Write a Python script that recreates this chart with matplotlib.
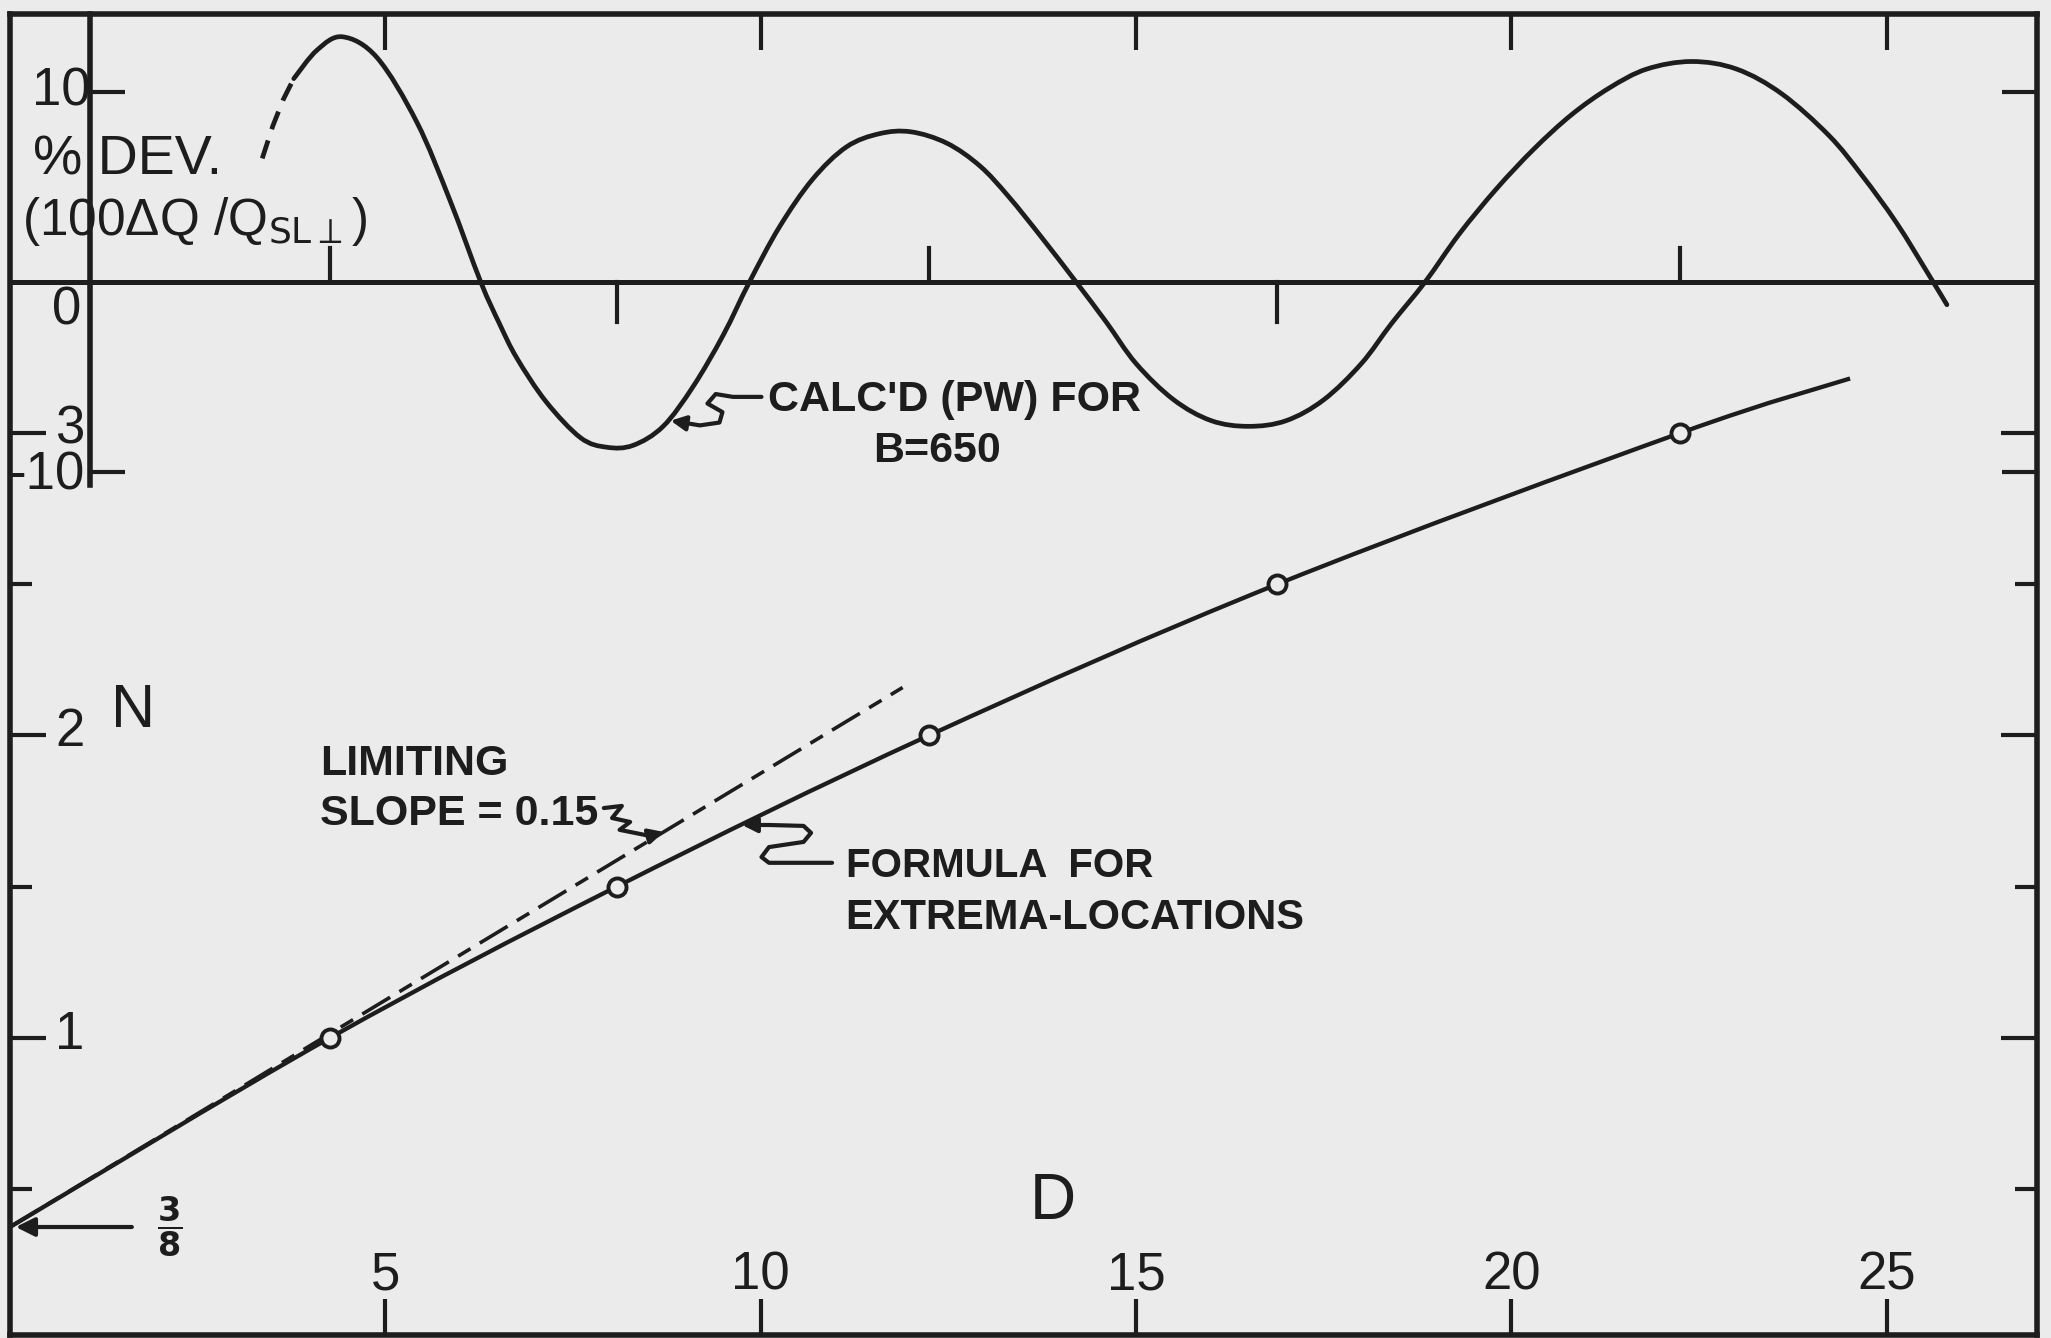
import matplotlib.pyplot as plt
from matplotlib.patches import FancyArrowPatch, PathPatch
from matplotlib.path import Path

INK = '#1d1d1d'
PAPER = '#ebebeb'
plt.rcParams['font.family'] = ['Liberation Sans', 'DejaVu Sans']

# % deviation 100*dQ/Q_SL, calculated (PW) for B = 650
dev_dash_d = [3.36, 3.50, 3.64, 3.78]
dev_dash_p = [6.5, 8.2, 9.6, 10.7]
dev_d = [3.78, 4.09, 4.43, 4.89, 5.42, 5.86, 6.27, 6.52, 6.75, 7.14,
         7.60, 7.95, 8.30, 8.70, 9.10, 9.50, 9.85, 10.25, 10.69, 11.14,
         11.58, 12.00, 12.48, 12.92, 13.30, 13.75, 14.20, 14.60, 15.00, 15.50,
         16.00, 16.50, 17.00, 17.50, 18.00, 18.40, 18.85, 19.30, 19.80, 20.30,
         20.80, 21.30, 21.80, 22.40, 23.00, 23.60, 24.23, 24.67, 25.13, 25.57,
         25.80]
dev_p = [10.7, 12.2, 12.9, 11.8, 8.4, 4.3, 0.0, -2.2, -4.0, -6.3,
         -8.2, -8.7, -8.6, -7.6, -5.5, -2.8, 0.0, 2.9, 5.4, 7.1,
         7.8, 7.9, 7.3, 6.1, 4.5, 2.3, 0.0, -2.1, -4.3, -6.2,
         -7.3, -7.6, -7.3, -6.2, -4.3, -2.2, 0.0, 2.5, 4.9, 7.0,
         8.8, 10.2, 11.2, 11.6, 11.2, 9.9, 7.7, 5.6, 3.1, 0.3,
         -1.2]

# extrema locations from the formula
ext_d = [4.26, 8.08, 12.24, 16.88, 22.25]
ext_n = [1.0, 1.5, 2.0, 2.5, 3.0]
form_d = [0.0] + ext_d + [24.51]
form_n = [0.375] + ext_n + [3.18]

N0 = 3 / 8
LIM_SLOPE = 0.15
lim_d_end = 11.89

d_ticks = [5, 10, 15, 20, 25]
n_major = [1, 2, 3]
n_minor = [0.5, 1.5, 2.5]
dev_ticks = [10, -10]


def smooth_path(xs, ys):
    # Catmull-Rom through every point, written as cubic Bezier segments
    pts = list(zip(xs, ys))
    verts = [pts[0]]
    codes = [Path.MOVETO]
    for i in range(len(pts) - 1):
        p0 = pts[max(i - 1, 0)]
        p1 = pts[i]
        p2 = pts[i + 1]
        p3 = pts[min(i + 2, len(pts) - 1)]
        c1 = (p1[0] + (p2[0] - p0[0]) / 6, p1[1] + (p2[1] - p0[1]) / 6)
        c2 = (p2[0] - (p3[0] - p1[0]) / 6, p2[1] - (p3[1] - p1[1]) / 6)
        verts += [c1, c2, p2]
        codes += [Path.CURVE4] * 3
    return Path(verts, codes)


fig = plt.figure(figsize=(20.51, 13.38), dpi=100)
fig.patch.set_facecolor(PAPER)
ax = fig.add_axes([10 / 2051, 3 / 1338, 2027 / 2051, 1321 / 1338])
ax.set_facecolor(PAPER)
ax.set_xlim(0, 27)
ax.set_ylim(0.018, 4.385)

ax2 = ax.twinx()
ax2.set_ylim(-55.42, 14.1)

for s in ax.spines.values():
    s.set_linewidth(4)
    s.set_color(INK)
for name, s in ax2.spines.items():
    s.set_visible(name == 'left')
ax2.spines['left'].set_position(('data', 1.065))
ax2.spines['left'].set_bounds(-10.7, 14.1)
ax2.spines['left'].set_linewidth(4)
ax2.spines['left'].set_color(INK)

# ticks
ax.set_xticks(d_ticks)
ax.tick_params(axis='x', direction='in', length=26, width=3, color=INK,
               top=True, bottom=True, labelbottom=False, labeltop=False)
ax.set_yticks(n_major)
ax.set_yticks(n_minor, minor=True)
ax.tick_params(axis='y', which='major', direction='in', length=26, width=3,
               color=INK, left=True, right=True, labelleft=False, labelright=False)
ax.tick_params(axis='y', which='minor', direction='in', length=16, width=3,
               color=INK, left=True, right=True, labelleft=False, labelright=False)
ax2.set_yticks(dev_ticks)
ax2.tick_params(axis='y', direction='in', length=25, width=3, color=INK,
                left=True, right=True, labelleft=False, labelright=False)

# upper curve: % deviation
ax2.axhline(0, color=INK, lw=3.6, zorder=2)
ax2.plot(dev_dash_d, dev_dash_p, color=INK, lw=3.4, ls=(0, (4, 2.5)))
ax2.add_patch(PathPatch(smooth_path(dev_d, dev_p), fill=False, ec=INK, lw=3.4,
                        capstyle='round', transform=ax2.transData))
for i, d in enumerate(ext_d):
    top = 1.8 if i % 2 == 0 else -2.1
    ax2.plot([d, d], [0, top], color=INK, lw=3)

# lower curves: N vs D
ax.plot([0, lim_d_end], [N0, N0 + LIM_SLOPE * lim_d_end], color=INK, lw=2.6,
        ls=(0, (9, 3, 4, 3)))
ax.add_patch(PathPatch(smooth_path(form_d, form_n), fill=False, ec=INK, lw=3.1,
                       transform=ax.transData))
ax.plot(ext_d, ext_n, 'o', ms=13, mfc=PAPER, mec=INK, mew=2.8, zorder=4)

# axis labels and tick numbers
num = dict(color=INK, fontsize=38, ha='center', va='center')
for d in d_ticks:
    ax.text(d, 0.215, str(d), **num)
ax.text(13.89, 0.458, 'D', color=INK, fontsize=46, ha='center', va='center')
for n in n_major:
    ax.text(0.8, n + 0.01, str(n), **num)
ax.text(1.64, 2.08, 'N', color=INK, fontsize=44, ha='center', va='center')
ax2.text(0.69, 10.0, '10', **num)
ax2.text(0.76, -1.5, '0', **num)
ax2.text(1.0, -10.2, '-10', color=INK, fontsize=38, ha='right', va='center')
ax2.text(0.31, 6.4, '% DEV.', color=INK, fontsize=40, ha='left', va='center')
ax2.text(0.16, 3.2, r'(100ΔQ /Q$_{\mathrm{SL}\perp}$)', color=INK,
         fontsize=37, ha='left', va='center')

# 3/8 intercept
ax.annotate('', xy=(0.04, N0), xytext=(1.66, N0),
            arrowprops=dict(arrowstyle='-|>', lw=3, color=INK, mutation_scale=28))
ax.text(2.12, N0, r'$\mathbf{\dfrac{3}{8}}$', color=INK, fontsize=24,
        ha='center', va='center')

# annotations
bold = dict(color=INK, fontweight='bold', va='center')
ax2.text(12.58, -6.2, "CALC'D (PW) FOR", fontsize=31, ha='center', **bold)
ax2.text(12.35, -8.9, 'B=650', fontsize=31, ha='center', **bold)
ax.text(4.13, 1.905, 'LIMITING', fontsize=31, ha='left', **bold)
ax.text(4.13, 1.74, 'SLOPE = 0.15', fontsize=31, ha='left', **bold)
ax.text(11.13, 1.568, 'FORMULA  FOR', fontsize=29, ha='left', **bold)
ax.text(11.13, 1.397, 'EXTREMA-LOCATIONS', fontsize=30, ha='left', **bold)

# squiggly leaders
calc_leader = [(10.01, -6.05), (9.63, -6.05), (9.40, -5.90), (9.29, -6.40),
               (9.49, -6.85), (9.45, -7.40), (9.19, -7.55), (8.80, -7.30)]
slope_leader = [(7.91, 1.760), (8.15, 1.767), (8.02, 1.727), (8.26, 1.714),
                (8.12, 1.688), (8.52, 1.668), (8.71, 1.681)]
formula_leader = [(10.95, 1.579), (10.11, 1.579), (10.01, 1.598), (10.11, 1.631),
                  (10.57, 1.648), (10.67, 1.678), (10.57, 1.701), (10.11, 1.704),
                  (9.75, 1.704)]
for pts, tr in [(calc_leader, ax2.transData), (slope_leader, ax.transData),
                (formula_leader, ax.transData)]:
    arrow = FancyArrowPatch(path=Path(pts), arrowstyle='-|>', mutation_scale=22,
                            lw=3, color=INK, transform=tr)
    ax.add_patch(arrow)

fig.savefig('out.png', dpi=100, facecolor=PAPER)
